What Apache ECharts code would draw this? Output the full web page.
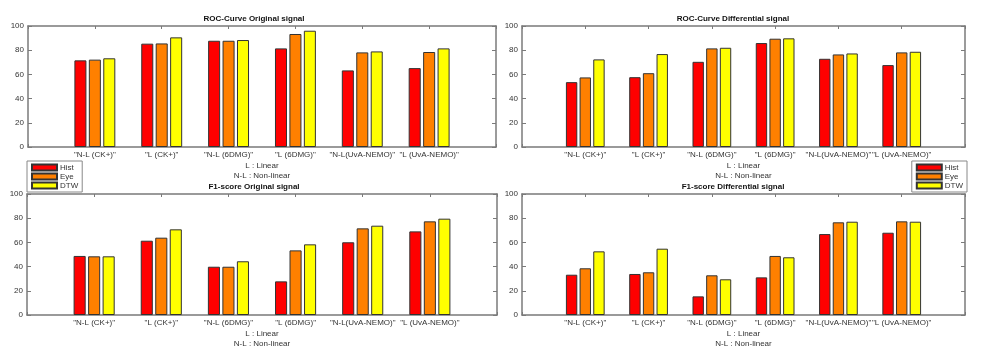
<!DOCTYPE html>
<html>
<head>
<meta charset="utf-8">
<script src="https://cdn.jsdelivr.net/npm/echarts@6/dist/echarts.min.js"></script>
<style>html,body{margin:0;padding:0;background:#fff;}#c{width:981px;height:354px;}</style>
</head>
<body>
<div id="c"></div>
<script>
const categories = ['"N-L (CK+)"', '"L (CK+)"', '"N-L (6DMG)"', '"L (6DMG)"', '"N-L(UvA-NEMO)"', '"L (UvA-NEMO)"'];
const seriesNames = ['Hist', 'Eye', 'DTW'];
const yTicks = [0, 20, 40, 60, 80, 100];

const rocOrigHist = [71.6, 85.4, 87.8, 81.5, 63.3, 65.2];
const rocOrigEye  = [72.2, 85.6, 87.8, 93.4, 78.2, 78.5];
const rocOrigDtw  = [73.3, 90.6, 88.4, 96.1, 79.0, 81.5];

const rocDiffHist = [53.6, 57.7, 70.4, 85.9, 72.9, 67.7];
const rocDiffEye  = [57.5, 61.0, 81.5, 89.5, 76.5, 78.2];
const rocDiffDtw  = [72.4, 76.8, 82.0, 89.8, 77.3, 78.7];

const f1OrigHist = [48.8, 61.4, 39.9, 27.8, 60.1, 69.1];
const f1OrigEye  = [48.5, 63.9, 39.9, 53.4, 71.6, 77.4];
const f1OrigDtw  = [48.5, 70.8, 44.4, 58.4, 73.8, 79.6];

const f1DiffHist = [33.3, 33.9, 15.4, 31.1, 66.9, 68.0];
const f1DiffEye  = [38.6, 35.3, 32.8, 48.8, 76.6, 77.4];
const f1DiffDtw  = [52.6, 54.8, 29.5, 47.7, 77.1, 77.1];

const panels = [
  { title: 'ROC-Curve Original signal', data: [rocOrigHist, rocOrigEye, rocOrigDtw] },
  { title: 'ROC-Curve Differential signal', data: [rocDiffHist, rocDiffEye, rocDiffDtw] },
  { title: 'F1-score Original signal', data: [f1OrigHist, f1OrigEye, f1OrigDtw] },
  { title: 'F1-score Differential signal', data: [f1DiffHist, f1DiffEye, f1DiffDtw] }
];

const colors = ['#ff0000', '#ff8000', '#ffff00'];
const FONT = 'Liberation Sans, Arial, sans-serif';
const lineColor = '#7a7a7a';
const textColor = '#333';

const grids = [
  { left: 28, right: 485, top: 26, height: 121 },
  { left: 522, right: 16, top: 26, height: 121 },
  { left: 27, right: 484, top: 194, height: 121 },
  { left: 522, right: 16, top: 194, height: 121 }
];
const titlePos = [[254, 19], [733, 19], [254, 187], [733, 187]];

const axisCats = [''].concat(categories, ['']);

const xAxes = [], yAxes = [], series = [], graphics = [];
grids.forEach((g, i) => {
  xAxes.push({
    type: 'category', gridIndex: i, data: axisCats, boundaryGap: false, position: 'bottom',
    axisLine: { onZero: false, lineStyle: { color: lineColor, width: 1.5 } },
    axisTick: { inside: true, length: 3, interval: 0, lineStyle: { color: lineColor } },
    axisLabel: { interval: 0, fontSize: 8, fontFamily: FONT, color: textColor, margin: 4 },
    splitLine: { show: false },
    name: 'L : Linear\nN-L : Non-linear', nameLocation: 'middle', nameGap: 14,
    nameTextStyle: { fontSize: 8, fontFamily: FONT, color: textColor, lineHeight: 10, verticalAlign: 'top' }
  });
  xAxes.push({
    type: 'category', gridIndex: i, data: axisCats, boundaryGap: false, position: 'top',
    axisLine: { onZero: false, lineStyle: { color: lineColor, width: 1.5 } },
    axisTick: { inside: true, length: 3, interval: 0, lineStyle: { color: lineColor } },
    axisLabel: { show: false }, splitLine: { show: false }
  });
  yAxes.push({
    type: 'value', gridIndex: i, min: yTicks[0], max: yTicks[yTicks.length - 1], interval: 20, position: 'left',
    axisLine: { show: true, onZero: false, lineStyle: { color: lineColor, width: 1.5 } },
    axisTick: { show: true, inside: true, length: 4, lineStyle: { color: lineColor } },
    axisLabel: { fontSize: 8, fontFamily: FONT, color: textColor, margin: 4 },
    splitLine: { show: false }
  });
  yAxes.push({
    type: 'value', gridIndex: i, min: yTicks[0], max: yTicks[yTicks.length - 1], interval: 20, position: 'right',
    axisLine: { show: true, onZero: false, lineStyle: { color: lineColor, width: 1.5 } },
    axisTick: { show: true, inside: true, length: 4, lineStyle: { color: lineColor } },
    axisLabel: { show: false }, splitLine: { show: false }
  });
  panels[i].data.forEach((vals, k) => {
    series.push({
      type: 'bar', name: seriesNames[k], xAxisIndex: i * 2, yAxisIndex: i * 2,
      data: ['-'].concat(vals, ['-']),
      barWidth: '18%', barGap: '20%',
      itemStyle: { color: colors[k], borderColor: '#333', borderWidth: 1 },
      emphasis: { disabled: true }
    });
  });
  graphics.push({
    type: 'text', x: titlePos[i][0], y: titlePos[i][1],
    style: { text: panels[i].title, font: 'bold 8px ' + FONT, fill: '#111', textAlign: 'center', textVerticalAlign: 'middle' }
  });
});

const legendBase = {
  orient: 'vertical', top: 161, data: seriesNames,
  icon: 'rect', itemWidth: 25, itemHeight: 6, itemGap: 0,
  padding: [2, 4, 2, 4], borderColor: '#888', borderWidth: 1, backgroundColor: '#fff',
  textStyle: { fontSize: 8, fontFamily: FONT, color: textColor, lineHeight: 9, padding: [0, 0, 0, -2] },
  selectedMode: false
};

const option = {
  animation: false,
  backgroundColor: '#fff',
  grid: grids,
  xAxis: xAxes,
  yAxis: yAxes,
  series: series,
  legend: [
    Object.assign({}, legendBase, { left: 27 }),
    Object.assign({}, legendBase, { right: 14 })
  ],
  graphic: graphics
};

const chart = echarts.init(document.getElementById('c'), null, { renderer: 'canvas' });
chart.setOption(option);
</script>
</body>
</html>
